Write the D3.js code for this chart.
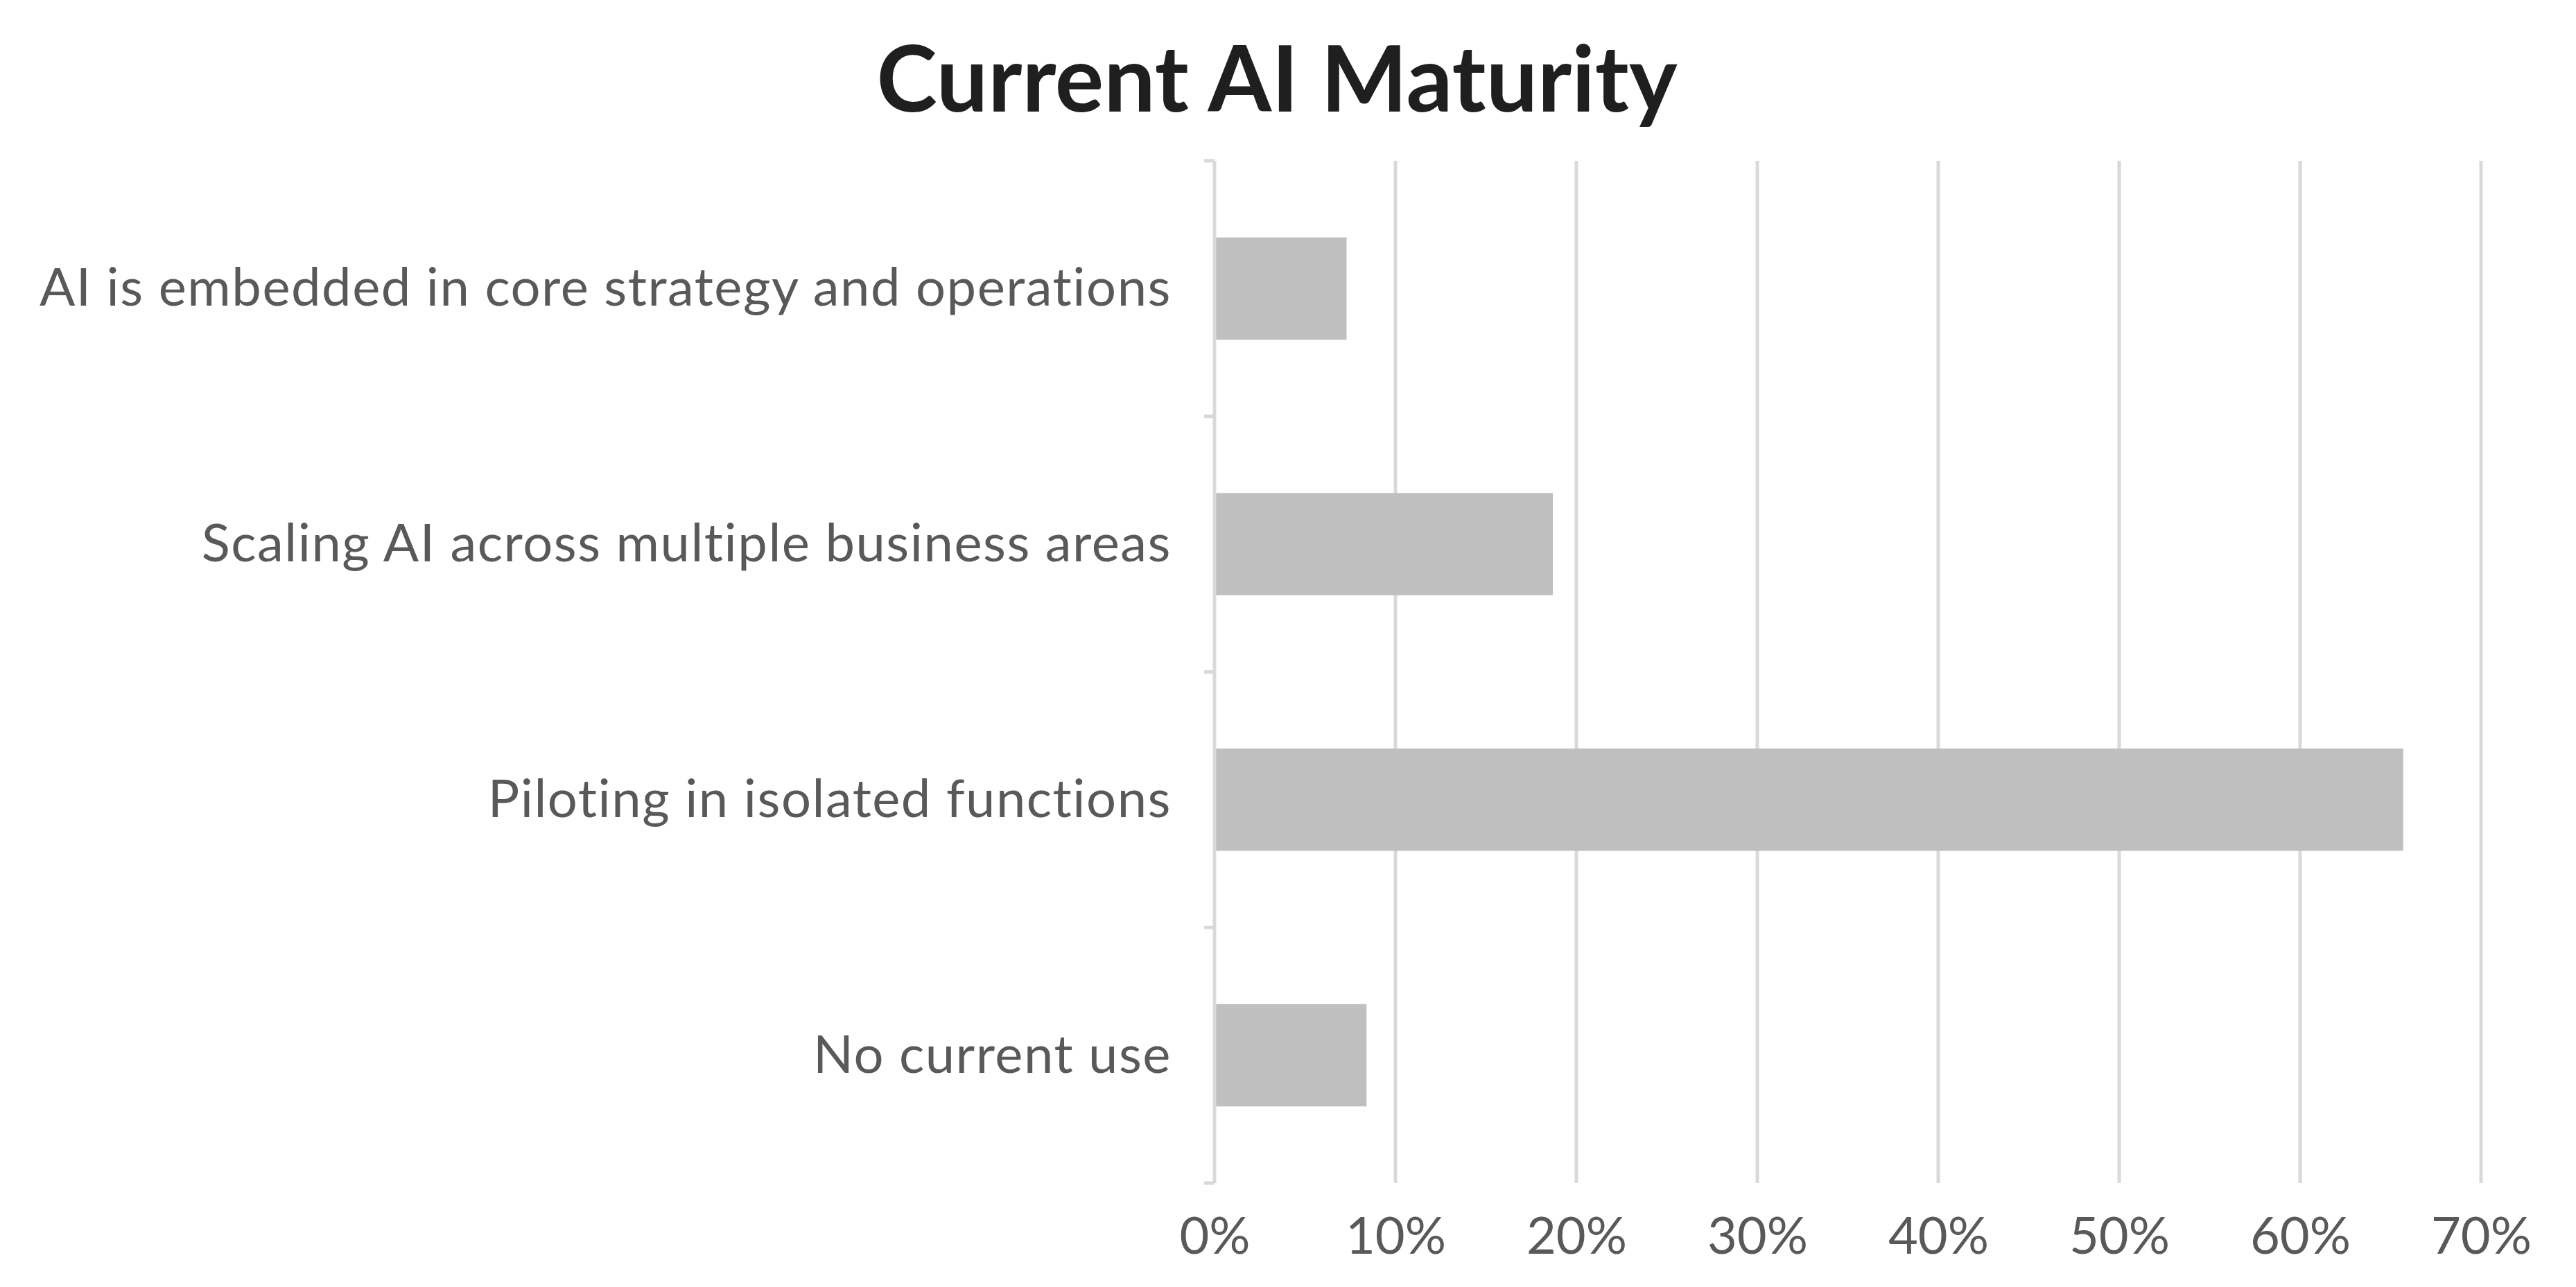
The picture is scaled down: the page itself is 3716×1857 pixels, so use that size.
<!DOCTYPE html>
<html>
<head>
<meta charset="utf-8">
<script src="https://cdn.jsdelivr.net/npm/d3@7"></script>
<style>
  html, body { margin: 0; padding: 0; background: #fff; }
  svg { display: block; }
</style>
</head>
<body>
<div id="chart"></div>
<script>
const width = 3716;
const height = 1857;
const margin = { top: 232, right: 137, bottom: 150, left: 1752 };

const title = "Current AI Maturity";

// top to bottom, as drawn
const categories = [
  "AI is embedded in core strategy and operations",
  "Scaling AI across multiple business areas",
  "Piloting in isolated functions",
  "No current use"
];
const values = [0.073, 0.187, 0.657, 0.084];
const xTicks = [0, 0.1, 0.2, 0.3, 0.4, 0.5, 0.6, 0.7];

const data = categories.map((c, i) => ({ category: c, value: values[i] }));

const svg = d3.select("#chart")
  .append("svg")
  .attr("width", width)
  .attr("height", height);

const xScale = d3.scaleLinear()
  .domain([0, 0.7])
  .range([margin.left, width - margin.right]);

const yScale = d3.scaleBand()
  .domain(categories)
  .range([margin.top, height - margin.bottom])
  .paddingInner(0.6)
  .paddingOuter(0.3);

// vertical gridlines
svg.append("g")
  .selectAll("line")
  .data(xTicks.slice(1))
  .enter()
  .append("line")
  .attr("x1", d => xScale(d))
  .attr("x2", d => xScale(d))
  .attr("y1", margin.top)
  .attr("y2", height - margin.bottom)
  .attr("stroke", "#d9d9d9")
  .attr("stroke-width", 5);

// bars
svg.append("g")
  .selectAll("rect")
  .data(data)
  .enter()
  .append("rect")
  .attr("x", xScale(0) + 2)
  .attr("y", d => yScale(d.category))
  .attr("width", d => xScale(d.value) - xScale(0) - 2)
  .attr("height", yScale.bandwidth())
  .attr("fill", "#bfbfbf");

// left axis with ticks at category boundaries
const step = yScale.step();
const boundaries = d3.range(categories.length + 1)
  .map(i => margin.top + i * step);

const yAxis = svg.append("g");
yAxis.append("line")
  .attr("x1", xScale(0))
  .attr("x2", xScale(0))
  .attr("y1", margin.top)
  .attr("y2", height - margin.bottom)
  .attr("stroke", "#d9d9d9")
  .attr("stroke-width", 5);
yAxis.selectAll("line.tick")
  .data(boundaries)
  .enter()
  .append("line")
  .attr("class", "tick")
  .attr("x1", xScale(0) - 15)
  .attr("x2", xScale(0))
  .attr("y1", d => d)
  .attr("y2", d => d)
  .attr("stroke", "#d9d9d9")
  .attr("stroke-width", 5);

// category labels
svg.append("g")
  .selectAll("text")
  .data(data)
  .enter()
  .append("text")
  .attr("x", xScale(0) - 62)
  .attr("y", d => yScale(d.category) + yScale.bandwidth() / 2)
  .attr("dy", "0.33em")
  .attr("text-anchor", "end")
  .attr("font-family", "Lato, sans-serif")
  .attr("font-size", 76)
  .attr("letter-spacing", 1.5)
  .attr("fill", "#595959")
  .text(d => d.category);

// x tick labels
const xAxis = svg.append("g")
  .attr("transform", `translate(0,${height - margin.bottom})`)
  .call(d3.axisBottom(xScale)
    .tickValues(xTicks)
    .tickFormat(d3.format(".0%"))
    .tickSize(0)
    .tickPadding(0));
xAxis.select(".domain").remove();
xAxis.selectAll("text")
  .attr("y", 102)
  .attr("dy", 0)
  .attr("font-family", "Lato, sans-serif")
  .attr("font-size", 74)
  .attr("fill", "#595959");

// title
svg.append("text")
  .attr("x", 1842)
  .attr("y", 161)
  .attr("text-anchor", "middle")
  .attr("font-family", "Lato, sans-serif")
  .attr("font-weight", "bold")
  .attr("font-size", 132)
  .attr("fill", "#1f1f1f")
  .text(title);
</script>
</body>
</html>
